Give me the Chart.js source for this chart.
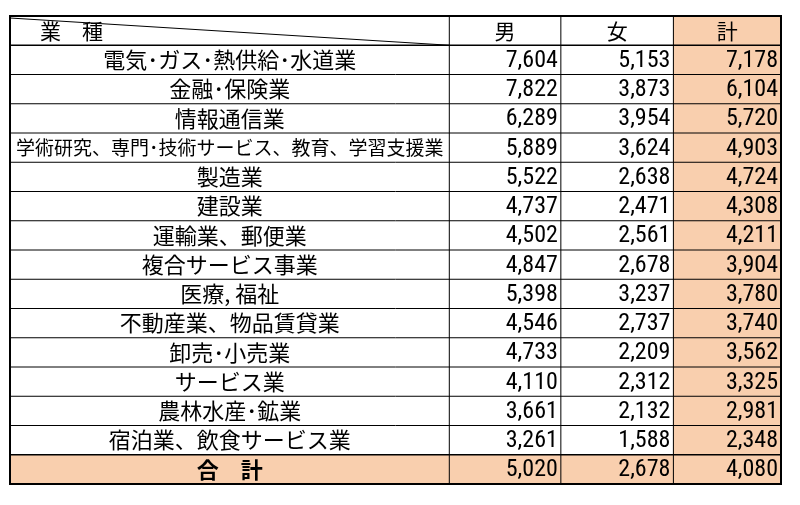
<!DOCTYPE html><html><head><meta charset="utf-8">
<script src="https://cdn.jsdelivr.net/npm/chart.js@4"></script>
<style>body{margin:0;background:#fff}</style></head><body>
<canvas id="c" width="800" height="505"></canvas>
<script>
const headers=["業　種","男","女","計"];
const categories=["電気･ガス･熱供給･水道業","金融･保険業","情報通信業","学術研究、専門･技術サービス、教育、学習支援業","製造業","建設業","運輸業、郵便業","複合サービス事業","医療, 福祉","不動産業、物品賃貸業","卸売･小売業","サービス業","農林水産･鉱業","宿泊業、飲食サービス業","合　計"];
const male=[7604,7822,6289,5889,5522,4737,4502,4847,5398,4546,4733,4110,3661,3261,5020];
const female=[5153,3873,3954,3624,2638,2471,2561,2678,3237,2737,2209,2312,2132,1588,2678];
const total=[7178,6104,5720,4903,4724,4308,4211,3904,3780,3740,3562,3325,2981,2348,4080];
const colEdges=[0,445,558,672,781];
const rows=["h",...categories.map((c,i)=>"r"+i)];
const ORANGE="#F9CFAE";
const fmt=v=>v.toLocaleString("en-US");
const bgData=rows.map((r,i)=>({y:r,x:[colEdges[3],colEdges[4]]}));
const totData=[{y:rows[rows.length-1],x:[colEdges[0],colEdges[3]]}];
const tablePlugin={id:"tbl",afterDatasetsDraw(ch){
 const c=ch.ctx,xs=ch.scales.x,ys=ch.scales.y;
 const X=v=>xs.getPixelForValue(v);
 const n=rows.length,top=ch.chartArea.top,bot=ch.chartArea.bottom,rh=(bot-top)/n;
 const Yt=i=>ys.getPixelForValue(i)-rh/2;
 c.save();c.strokeStyle="#000";
 for(let i=1;i<n;i++){c.lineWidth=(i==1||i==n-1)?1.5:1;c.beginPath();c.moveTo(X(colEdges[0]),Yt(i));c.lineTo(X(colEdges[4]),Yt(i));c.stroke();}
 for(let k=1;k<4;k++){c.lineWidth=1;c.beginPath();c.moveTo(X(colEdges[k]),top);c.lineTo(X(colEdges[k]),bot);c.stroke();}
 c.lineWidth=2;c.strokeRect(X(colEdges[0]),top,X(colEdges[4])-X(colEdges[0]),bot-top);
 c.lineWidth=1;c.beginPath();c.moveTo(X(colEdges[0]),top+2);c.lineTo(X(colEdges[1]),Yt(1));c.stroke();
 c.fillStyle="#000";c.textBaseline="middle";
 const jp='"Noto Sans CJK JP", sans-serif',num='"Liberation Sans Narrow","Roboto Condensed","DejaVu Sans Condensed",sans-serif';
 c.font="21px "+jp;c.textAlign="left";c.fillText(headers[0],X(colEdges[0])+30,Yt(0)+rh/2);
 c.textAlign="center";for(let k=1;k<4;k++)c.fillText(headers[k],(X(colEdges[k])+X(colEdges[k+1]))/2,Yt(0)+rh/2);
 for(let i=0;i<categories.length;i++){
  const yc=Yt(i+1)+rh/2,last=i==categories.length-1;
  const cw=X(colEdges[1])-X(colEdges[0])-6;
  c.textAlign="center";
  let fs=22;c.font=(last?"bold ":"")+fs+"px "+jp;
  while(c.measureText(categories[i]).width>cw&&fs>10){fs--;c.font=fs+"px "+jp;}
  c.fillText(categories[i],(X(colEdges[0])+X(colEdges[1]))/2,yc);
  c.font="24px "+num;c.textAlign="right";
  [male,female,total].forEach((a,k)=>c.fillText(fmt(a[i]),X(colEdges[k+2])-3,yc+1));
 }
 c.restore();}};
new Chart(document.getElementById("c"),{type:"bar",
 data:{labels:rows,datasets:[
  {data:bgData,backgroundColor:ORANGE,barPercentage:1,categoryPercentage:1,borderWidth:0},
  {data:totData,backgroundColor:ORANGE,barPercentage:1,categoryPercentage:1,borderWidth:0}]},
 options:{indexAxis:"y",responsive:false,devicePixelRatio:1,animation:false,
  parsing:{xAxisKey:"x",yAxisKey:"y"},
  layout:{padding:{left:10,right:19,top:16,bottom:21}},
  plugins:{legend:{display:false},tooltip:{enabled:false}},
  scales:{x:{type:"linear",min:0,max:781,display:false,stacked:false},
          y:{type:"category",display:false,stacked:true,grid:{display:false}}}},
 plugins:[tablePlugin]});
</script></body></html>
